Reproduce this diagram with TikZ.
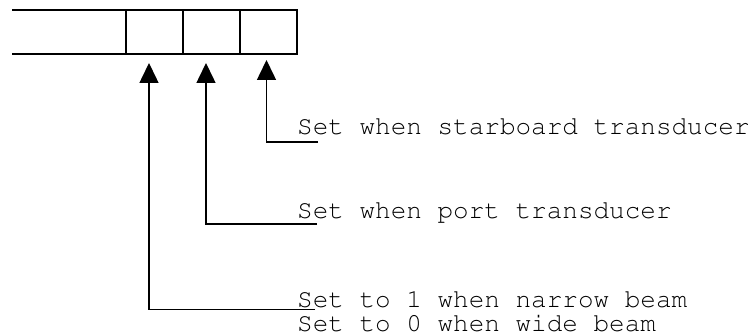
\documentclass[tikz,border=0pt]{standalone}
\usepackage[T1]{fontenc}
\usetikzlibrary{arrows.meta}
\newcommand\crfont{\fontencoding{T1}\fontfamily{pcr}\fontsize{26}{22}\selectfont}
\tikzset{
  cell/.style={draw, line width=1.3pt, minimum width=57pt, minimum height=44pt, inner sep=0pt, outer sep=0pt},
  field/.style={minimum width=114pt, minimum height=44pt, inner sep=0pt, outer sep=0pt},
  lbl/.style={anchor=base west, inner sep=0pt, font=\crfont},
  arr/.style={line width=1.5pt, -{Triangle[width=19pt,length=20pt]}},
}
\begin{document}
\begin{tikzpicture}[x=1pt,y=-1pt]
\useasboundingbox (0,0) rectangle (755,336);
% register
\node[field] (f0) at (69,32) {};
\draw[line width=1.3pt] (f0.north west) -- (f0.north east) (f0.south west) -- (f0.south east);
\node[cell] (f1) at (154.5,32) {};
\node[cell] (f2) at (211.5,32) {};
\node[cell] (f3) at (268.5,32) {};
% labels
\node[lbl] (t3) at (297,135) {Set when starboard transducer};
\node[lbl] (t2) at (297,218.5) {Set when port transducer};
\node[lbl] (t1) at (297,308) {\begin{tabular}[t]{@{}l@{}}Set to 1 when narrow beam\\Set to 0 when wide beam\end{tabular}};
% leader starts
\coordinate (s3) at ([xshift=21pt,yshift=-7pt]t3.base west);
\coordinate (s2) at ([xshift=20pt,yshift=-5.5pt]t2.base west);
\coordinate (s1) at ([xshift=18pt,yshift=-1.5pt]t1.base west);
% connectors
\draw[arr] (s3) -| ([xshift=-2pt,yshift=-6pt]f3.south);
\draw[arr] (s2) -| ([xshift=-5.5pt,yshift=-9pt]f2.south);
\draw[arr] (s1) -| ([xshift=-5.5pt,yshift=-9pt]f1.south);
\end{tikzpicture}
\end{document}
